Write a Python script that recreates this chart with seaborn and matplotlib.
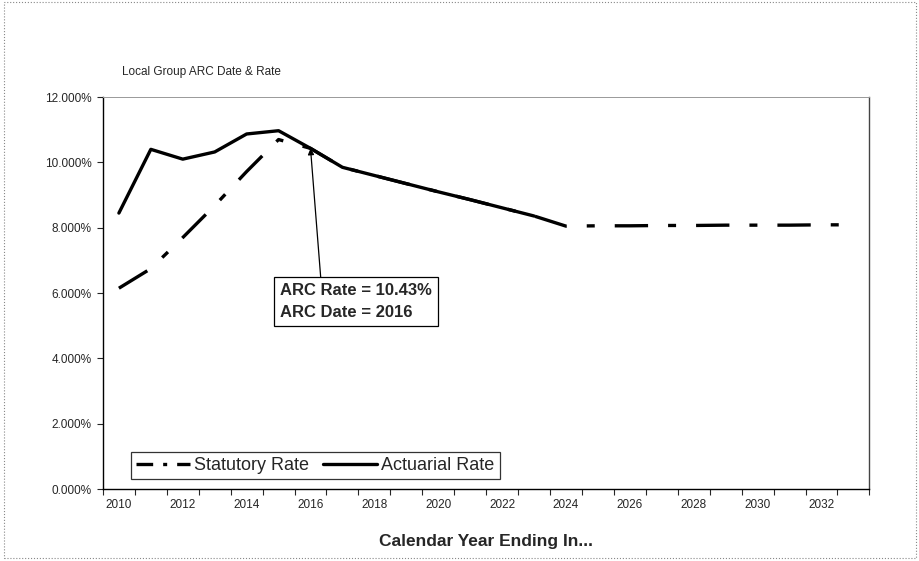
import numpy as np
import pandas as pd
import matplotlib
matplotlib.use("Agg")
import matplotlib.pyplot as plt
import seaborn as sns
from matplotlib.ticker import FuncFormatter, MultipleLocator, FixedLocator
from matplotlib.patches import Rectangle

# =========================
# data
# =========================
years = list(range(2010, 2034))

actuarial_years = list(range(2010, 2024))
actuarial_rate = [8.45, 10.40, 10.10, 10.32, 10.87, 10.97, 10.43, 9.85,
                  9.60, 9.35, 9.10, 8.86, 8.61, 8.36]

statutory_rate = [6.15, 6.75, 7.70, 8.68, 9.72, 10.70, 10.43, 9.85,
                  9.60, 9.35, 9.10, 8.86, 8.61, 8.36, 8.05, 8.06,
                  8.06, 8.07, 8.07, 8.08, 8.08, 8.08, 8.09, 8.09]

arc_year = 2016
arc_rate = 10.43

title = "Local Group ARC Date & Rate"
xlabel = "Calendar Year Ending In..."

df_stat = pd.DataFrame({"year": years, "rate": statutory_rate})
df_act = pd.DataFrame({"year": actuarial_years, "rate": actuarial_rate})

# =========================
# style
# =========================
sns.set_theme(style="white")
plt.rcParams["font.family"] = ["Liberation Sans", "DejaVu Sans"]

fig = plt.figure(figsize=(9.19, 5.61), dpi=100)
ax = fig.add_axes([0.112, 0.128, 0.834, 0.699])

sns.lineplot(data=df_stat, x="year", y="rate", ax=ax, color="black",
             linewidth=2.4, label="Statutory Rate",
             dashes=False)
sns.lineplot(data=df_act, x="year", y="rate", ax=ax, color="black",
             linewidth=2.4, label="Actuarial Rate")
ax.lines[0].set_dashes([10, 6, 2.4, 6])

ax.set_xlim(2009.5, 2033.5)
ax.set_ylim(0, 12)

# y axis
ax.yaxis.set_major_locator(MultipleLocator(2))
ax.yaxis.set_major_formatter(FuncFormatter(lambda v, p: f"{v:.3f}%"))
ax.tick_params(axis="y", labelsize=8.5, length=4, width=0.8, direction="out",
               left=True, pad=4)

# x axis: labels on even years, tick marks between categories
ax.xaxis.set_major_locator(FixedLocator([y for y in years if y % 2 == 0]))
ax.xaxis.set_major_formatter(FuncFormatter(lambda v, p: f"{int(v)}"))
ax.xaxis.set_minor_locator(FixedLocator([y + 0.5 for y in [2009] + years]))
ax.tick_params(axis="x", which="major", labelsize=8.5, length=0, pad=7)
ax.tick_params(axis="x", which="minor", length=4, width=0.8,
               direction="out", bottom=True)

ax.set_xlabel(xlabel, fontsize=12.5, fontweight="bold")
ax.xaxis.set_label_coords(0.5, -0.115)
ax.set_ylabel("")

for side in ["left", "bottom"]:
    ax.spines[side].set_color("black")
    ax.spines[side].set_linewidth(1.0)
ax.spines["top"].set_color("#999999")
ax.spines["top"].set_linewidth(0.7)
ax.spines["right"].set_color("#444444")
ax.spines["right"].set_linewidth(1.0)

# title
fig.text(0.133, 0.872, title, fontsize=8.5, ha="left", va="center")

# annotation
ax.annotate(f"ARC Rate = {arc_rate:.2f}%\nARC Date = {arc_year}",
            xy=(arc_year, arc_rate), xytext=(2015.05, 6.3),
            fontsize=12, fontweight="bold", ha="left", va="top",
            linespacing=1.55,
            bbox=dict(boxstyle="square,pad=0.35", fc="white", ec="black",
                      lw=0.9),
            arrowprops=dict(arrowstyle="-|>", color="black", lw=0.9,
                            mutation_scale=9, shrinkA=0, shrinkB=0,
                            relpos=(0.27, 1.0)))

# legend
leg = ax.legend(loc="lower left", bbox_to_anchor=(0.036, 0.025),
                ncol=2, fontsize=13, frameon=True, fancybox=False,
                handlelength=3.0, handletextpad=0.2, columnspacing=0.8,
                borderpad=0.3, borderaxespad=0)
leg.get_frame().set_edgecolor("black")
leg.get_frame().set_linewidth(0.9)
leg.get_lines()[0].set_dashes([5, 3, 1.2, 3])

# outer chart frame
fig.patches.append(Rectangle((0.004, 0.006), 0.993, 0.99,
                             transform=fig.transFigure, fill=False,
                             ec="#888888", lw=0.8, ls=":"))

fig.savefig("out.png", dpi=100)
